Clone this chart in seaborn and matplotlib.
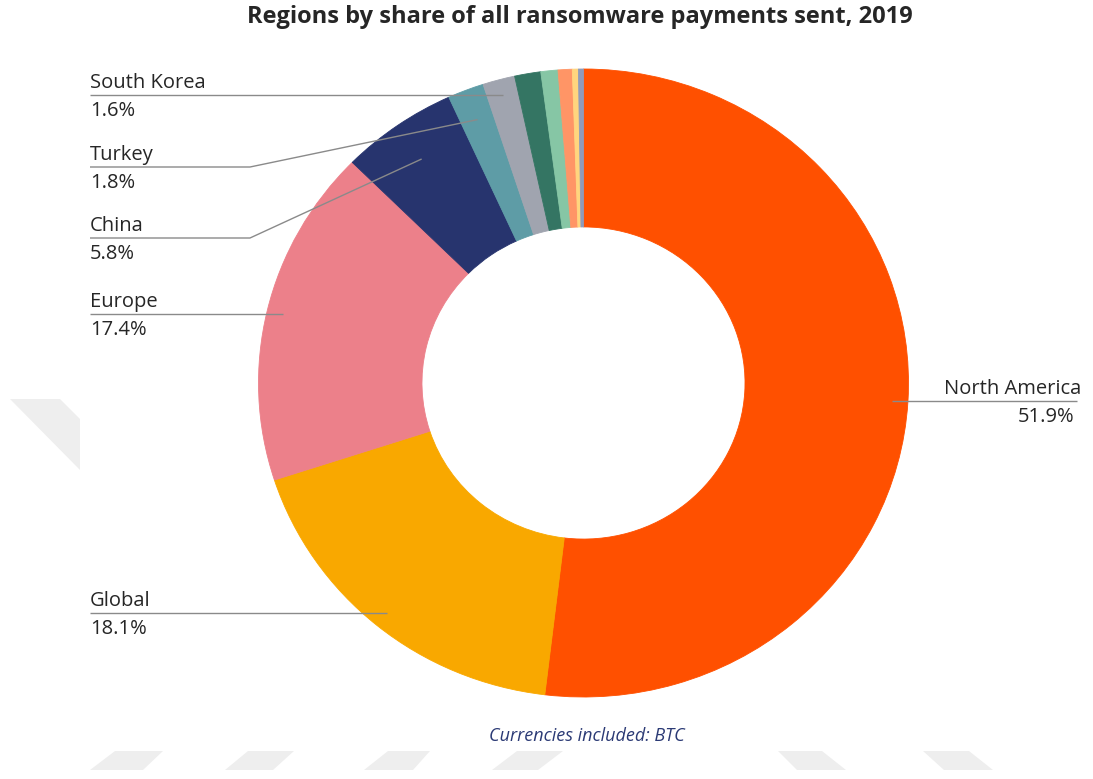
import numpy as np
import matplotlib
matplotlib.use("Agg")
import matplotlib.pyplot as plt
import seaborn as sns
from matplotlib.patches import Polygon

# ---- data -------------------------------------------------------------
regions = ["North America", "Global", "Europe", "China", "Turkey", "South Korea",
           "", "", "", "", ""]
shares = [51.9, 18.1, 17.4, 5.8, 1.8, 1.6, 1.3, 0.85, 0.7, 0.3, 0.25]
slice_colors = ["#FF5000", "#F9A800", "#EC808A", "#27346E", "#5E9CA6", "#A0A4AF",
                "#347563", "#86C6A5", "#FF9566", "#FFD57E", "#8F9BBA"]

title = "Regions by share of all ransomware payments sent, 2019"
footnote = "Currencies included: BTC"

# ---- style ------------------------------------------------------------
sns.set_theme(style="white")
plt.rcParams["font.family"] = ["Open Sans", "DejaVu Sans"]
palette = sns.color_palette(slice_colors)

W, H = 1093, 779
fig = plt.figure(figsize=(W / 100, H / 100), dpi=100)
fig.patch.set_facecolor("white")

# donut axes (slightly wider than tall)
cx, cy, rx, ry = 583.5, 383, 325, 314
ax = fig.add_axes([(cx - rx) / W, (H - cy - ry) / H, 2 * rx / W, 2 * ry / H])
wedges, _ = ax.pie(shares, colors=palette, startangle=90, counterclock=False,
                   radius=1.0, wedgeprops=dict(width=0.503, linewidth=0.6))
for w, c in zip(wedges, palette):
    w.set_edgecolor(c)
ax.set_aspect("auto")
ax.set_xlim(-1, 1)
ax.set_ylim(-1, 1)
ax.axis("off")

# overlay in pixel coordinates (origin top-left) for labels and leaders
ov = fig.add_axes([0, 0, 1, 1], zorder=5)
ov.set_xlim(0, W)
ov.set_ylim(H, 0)
ov.axis("off")
ov.patch.set_alpha(0)

# faint background marks
marks = [
    [(10, 399), (60, 399), (80, 419), (80, 470)],
    [(115, 751), (163, 751), (143, 770), (90, 770)],
    [(248, 751), (294, 751), (273, 770), (225, 770)],
    [(388, 751), (430, 751), (413, 770), (364, 770)],
    [(517, 751), (563, 751), (538, 770), (492, 770)],
    [(778, 751), (822, 751), (846, 770), (797, 770)],
    [(923, 751), (969, 751), (993, 770), (944, 770)],
]
for m in marks:
    ov.add_patch(Polygon(m, closed=True, facecolor="#eeeeee", edgecolor="none", zorder=0))

# label layout: side, text x, optional fixed line y + elbow x, anchor radius
layout = {
    "North America": dict(side="right", x=1081, y=None, r=0.95),
    "Global": dict(side="left", x=90, y=None, r=0.95),
    "Europe": dict(side="left", x=90, y=None, r=0.95),
    "China": dict(side="left", x=90, y=238, elbow=250, r=0.87),
    "Turkey": dict(side="left", x=90, y=167, elbow=250, r=0.90),
    "South Korea": dict(side="left", x=90, y=None, r=0.95),
}

text_color = "#262626"
line_color = "#8a8a8a"
fs = 14.5

for w, name, val in zip(wedges, regions, shares):
    if not name:
        continue
    lay = layout[name]
    mid = np.deg2rad((w.theta1 + w.theta2) / 2)
    disp = ax.transData.transform((lay["r"] * np.cos(mid), lay["r"] * np.sin(mid)))
    ax_px, ay_px = disp[0], H - disp[1]
    ly = lay["y"] if lay["y"] is not None else ay_px
    if lay["side"] == "left":
        if lay["y"] is not None:
            xs = [lay["x"], lay["elbow"], ax_px]
            ys = [ly, ly, ay_px]
        else:
            xs = [lay["x"], ax_px]
            ys = [ly, ly]
        ha = "left"
    else:
        xs = [ax_px, lay["x"] - 4]
        ys = [ly, ly]
        ha = "right"
    tx = lay["x"]
    ov.plot(xs, ys, color=line_color, lw=1.0, solid_capstyle="butt", zorder=3)
    ov.text(tx, ly - 7, name, ha=ha, va="baseline", fontsize=fs, color=text_color)
    ov.text(tx - (7 if ha == "right" else 0), ly + 21, f"{val:.1f}%", ha=ha,
            va="baseline", fontsize=fs, color=text_color)

ov.text(580, 23, title, ha="center", va="baseline", fontsize=17,
        fontweight="bold", color="#262626")
ov.text(587, 741, footnote, ha="center", va="baseline", fontsize=13,
        style="italic", color="#2B3A75")

fig.savefig("out.png", dpi=100, facecolor="white")
